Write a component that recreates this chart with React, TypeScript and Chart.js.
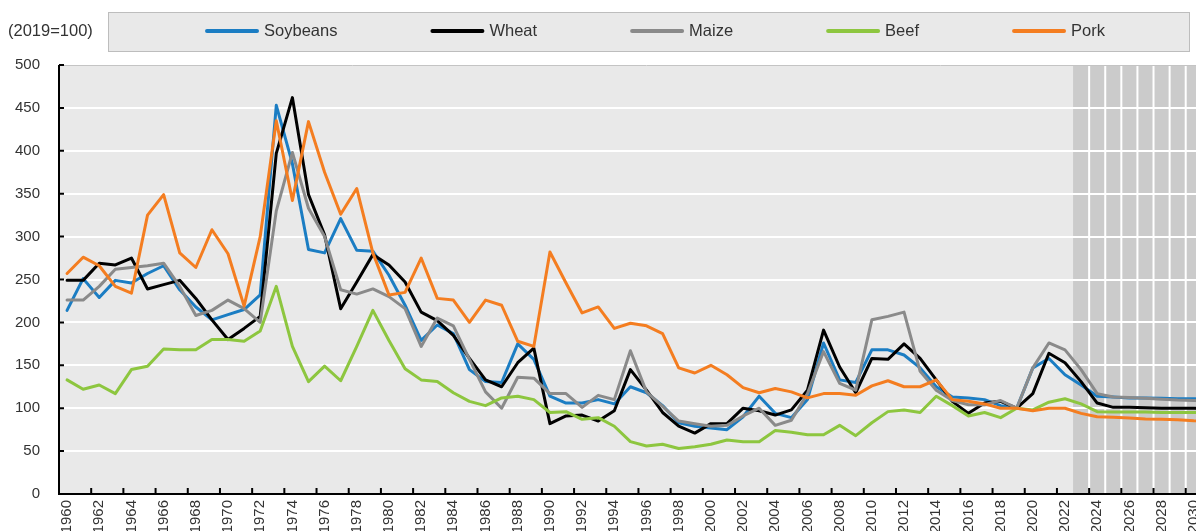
import React, { useEffect, useRef } from 'react';
import { Chart, registerables } from 'chart.js';

Chart.register(...registerables);

const years = [
  1960, 1961, 1962, 1963, 1964, 1965, 1966, 1967, 1968, 1969,
  1970, 1971, 1972, 1973, 1974, 1975, 1976, 1977, 1978, 1979,
  1980, 1981, 1982, 1983, 1984, 1985, 1986, 1987, 1988, 1989,
  1990, 1991, 1992, 1993, 1994, 1995, 1996, 1997, 1998, 1999,
  2000, 2001, 2002, 2003, 2004, 2005, 2006, 2007, 2008, 2009,
  2010, 2011, 2012, 2013, 2014, 2015, 2016, 2017, 2018, 2019,
  2020, 2021, 2022, 2023, 2024, 2025, 2026, 2027, 2028, 2029,
  2030, 2031, 2032,
];

const projectionStart = 2023;

const soybeans = [
  214, 251, 229, 249, 246, 257, 266, 238, 218, 203,
  209, 215, 232, 453, 385, 285, 281, 321, 284, 283,
  255, 220, 179, 197, 187, 145, 131, 130, 175, 157,
  114, 106, 106, 110, 105, 125, 118, 103, 83, 79,
  77, 75, 90, 114, 94, 89, 110, 176, 133, 130,
  168, 168, 162, 147, 125, 113, 112, 110, 103, 100,
  147, 158, 139, 127, 114, 113, 112, 112, 111.5, 111,
  111, 110.5, 110,
];

const wheat = [
  249, 249, 269, 267, 275, 239, 244, 249, 228, 203,
  180, 193, 207, 397, 462, 349, 302, 216, 247, 279,
  267, 247, 212, 202, 185, 158, 133, 125, 153, 170,
  82, 91, 92, 85, 97, 145, 121, 95, 79, 71,
  82, 82, 100, 97, 92, 98, 121, 191, 148, 118,
  158, 157, 175, 158, 133, 108, 94, 106, 108, 100,
  117, 164, 153, 131, 106, 101, 101, 100.5, 100, 100,
  100, 99.5, 99.5,
];

const maize = [
  226, 226, 242, 262, 264, 266, 269, 242, 208, 214,
  226, 216, 200, 330, 398, 333, 300, 238, 233, 239,
  230, 216, 172, 205, 196, 157, 119, 100, 136, 135,
  117, 117, 101, 115, 110, 167, 119, 102, 85, 82,
  79, 80, 91, 100, 80, 86, 117, 166, 129, 121,
  203, 207, 212, 143, 121, 109, 104, 104, 109, 100,
  147, 176, 168, 145, 117, 113, 112.5, 111.5, 110.5, 109.5,
  109, 108.5, 108,
];

const beef = [
  133, 122, 127, 117, 145, 149, 169, 168, 168, 180,
  180, 178, 190, 242, 172, 131, 149, 132, 172, 214,
  179, 146, 133, 131, 118, 108, 103, 112, 114, 110,
  95, 96, 87, 89, 79, 61, 56, 58, 53, 55,
  58, 63, 61, 61, 74, 72, 69, 69, 80, 68,
  83, 96, 98, 95, 114, 103, 91, 95, 89, 100,
  98, 107, 111, 105, 96, 95.5, 95.5, 95.5, 95, 95,
  95, 95, 95,
];

const pork = [
  257, 276, 266, 242, 234, 325, 349, 281, 264, 308,
  280, 219, 300, 435, 342, 434, 375, 326, 356, 281,
  232, 235, 275, 228, 226, 200, 226, 220, 178, 172,
  282, 246, 211, 218, 193, 199, 196, 187, 147, 141,
  150, 139, 124, 118, 123, 119, 112, 117, 117, 115,
  126, 132, 125, 125, 133, 110, 108, 105, 100, 100,
  97, 100, 100, 94, 90, 89.5, 88.5, 87.5, 87, 86.5,
  85.5, 85, 84.5,
];

const seriesNames = ['Soybeans', 'Wheat', 'Maize', 'Beef', 'Pork'];
const seriesColors = ['#1b7dc3', '#000000', '#8a8a8a', '#8dc63f', '#f47d20'];
const seriesValues = [soybeans, wheat, maize, beef, pork];

const unitLabel = '(2019=100)';
const yTicks = { min: 0, max: 500, step: 50 };

const FONT_FAMILY = '"Liberation Sans", Arial, Helvetica, sans-serif';
const TEXT_COLOR = '#333333';

const decorPlugin = {
  id: 'decor',
  beforeDraw(chart: any) {
    const { ctx, chartArea: a, scales } = chart;
    const x = scales.x;
    ctx.save();
    ctx.fillStyle = '#e9e9e9';
    ctx.fillRect(a.left, a.top, a.right - a.left, a.bottom - a.top);
    const idx = years.indexOf(projectionStart);
    const half = (x.getPixelForValue(1) - x.getPixelForValue(0)) / 2;
    const xs = x.getPixelForValue(idx) - half;
    ctx.fillStyle = '#cbcbcb';
    ctx.fillRect(xs, a.top, a.right - xs, a.bottom - a.top);
    ctx.strokeStyle = '#ffffff';
    ctx.lineWidth = 2;
    for (let i = idx + 1; i < years.length; i++) {
      const px = x.getPixelForValue(i) - half;
      ctx.beginPath();
      ctx.moveTo(px, a.top);
      ctx.lineTo(px, a.bottom);
      ctx.stroke();
    }
    ctx.restore();
  },
  afterDatasetsDraw(chart: any) {
    const { ctx, chartArea: a, scales } = chart;
    const x = scales.x;
    const y = scales.y;
    ctx.save();
    // top border
    ctx.strokeStyle = '#c4c4c4';
    ctx.lineWidth = 1;
    ctx.beginPath();
    ctx.moveTo(a.left, a.top + 0.5);
    ctx.lineTo(a.right, a.top + 0.5);
    ctx.stroke();
    // axes
    ctx.strokeStyle = '#000000';
    ctx.lineWidth = 2;
    ctx.beginPath();
    ctx.moveTo(a.left, a.top);
    ctx.lineTo(a.left, a.bottom);
    ctx.moveTo(a.left - 1, a.bottom);
    ctx.lineTo(a.right, a.bottom);
    ctx.stroke();
    // y ticks (inside)
    ctx.beginPath();
    for (let v = yTicks.min; v <= yTicks.max; v += yTicks.step) {
      const py = y.getPixelForValue(v);
      ctx.moveTo(a.left, py);
      ctx.lineTo(a.left + 5, py);
    }
    // x ticks (inside) every 2 categories, at boundaries
    const half = (x.getPixelForValue(1) - x.getPixelForValue(0)) / 2;
    for (let i = 2; i < years.length; i += 2) {
      const px = x.getPixelForValue(i) - half;
      ctx.moveTo(px, a.bottom);
      ctx.lineTo(px, a.bottom - 6);
    }
    ctx.stroke();
    ctx.restore();
  },
  afterDraw(chart: any) {
    const { ctx } = chart;
    ctx.save();
    // unit label
    ctx.font = `16.5px ${FONT_FAMILY}`;
    ctx.fillStyle = TEXT_COLOR;
    ctx.textBaseline = 'middle';
    ctx.textAlign = 'left';
    ctx.fillText(unitLabel, 8, 31);
    // legend box
    const bx = 108, by = 12, bw = 1082, bh = 40;
    ctx.fillStyle = '#e9e9e9';
    ctx.fillRect(bx, by, bw, bh);
    ctx.strokeStyle = '#bdbdbd';
    ctx.lineWidth = 1;
    ctx.strokeRect(bx + 0.5, by + 0.5, bw - 1, bh - 1);
    // legend items
    const sample = 54, gapText = 5, gapItem = 93;
    const widths = seriesNames.map((n) => ctx.measureText(n).width);
    let total = 0;
    widths.forEach((w, i) => {
      total += sample + gapText + w + (i > 0 ? gapItem : 0);
    });
    let cx = 655 - total / 2;
    const cy = by + bh / 2 - 1;
    seriesNames.forEach((n, i) => {
      ctx.strokeStyle = seriesColors[i];
      ctx.lineWidth = 4;
      ctx.lineCap = 'round';
      ctx.beginPath();
      ctx.moveTo(cx + 2, cy);
      ctx.lineTo(cx + sample - 2, cy);
      ctx.stroke();
      ctx.fillStyle = TEXT_COLOR;
      ctx.fillText(n, cx + sample + gapText, cy);
      cx += sample + gapText + widths[i] + gapItem;
    });
    ctx.restore();
  },
};

export default function App() {
  const canvasRef = useRef<HTMLCanvasElement | null>(null);

  useEffect(() => {
    const canvas = canvasRef.current;
    if (!canvas) return;
    const chart = new Chart(canvas, {
      type: 'line',
      data: {
        labels: years.map(String),
        datasets: seriesNames.map((name, i) => ({
          label: name,
          data: seriesValues[i],
          borderColor: seriesColors[i],
          backgroundColor: seriesColors[i],
          borderWidth: 3,
          pointRadius: 0,
          tension: 0,
          fill: false,
          borderJoinStyle: 'round' as const,
          borderCapStyle: 'round' as const,
          order: seriesNames.length - i,
        })),
      },
      options: {
        responsive: false,
        animation: false,
        devicePixelRatio: 1,
        layout: { padding: { left: 9, top: 65, right: 20, bottom: 0 } },
        plugins: {
          legend: { display: false },
          tooltip: { enabled: false },
        },
        scales: {
          x: {
            type: 'category',
            offset: true,
            grid: { display: false, drawTicks: false },
            border: { display: false },
            ticks: {
              autoSkip: false,
              minRotation: 90,
              maxRotation: 90,
              padding: 6,
              color: TEXT_COLOR,
              font: { size: 15, family: FONT_FAMILY },
              callback: (_v: any, i: number) => (i % 2 === 0 ? String(years[i]) : ''),
            },
            afterFit: (s: any) => {
              s.height = 37;
            },
          },
          y: {
            min: yTicks.min,
            max: yTicks.max,
            grid: { color: '#ffffff', lineWidth: 2, drawTicks: false },
            border: { display: false },
            ticks: {
              stepSize: yTicks.step,
              padding: 19,
              color: TEXT_COLOR,
              font: { size: 15, family: FONT_FAMILY },
            },
            afterFit: (s: any) => {
              s.width = 50;
            },
          },
        },
      } as any,
      plugins: [decorPlugin],
    });
    return () => chart.destroy();
  }, []);

  return (
    <div
      style={{
        position: 'fixed',
        left: 0,
        top: 0,
        width: 1196,
        height: 531,
        overflow: 'hidden',
        background: '#ffffff',
      }}
    >
      <canvas ref={canvasRef} width={1254} height={531} style={{ display: 'block' }} />
    </div>
  );
}
